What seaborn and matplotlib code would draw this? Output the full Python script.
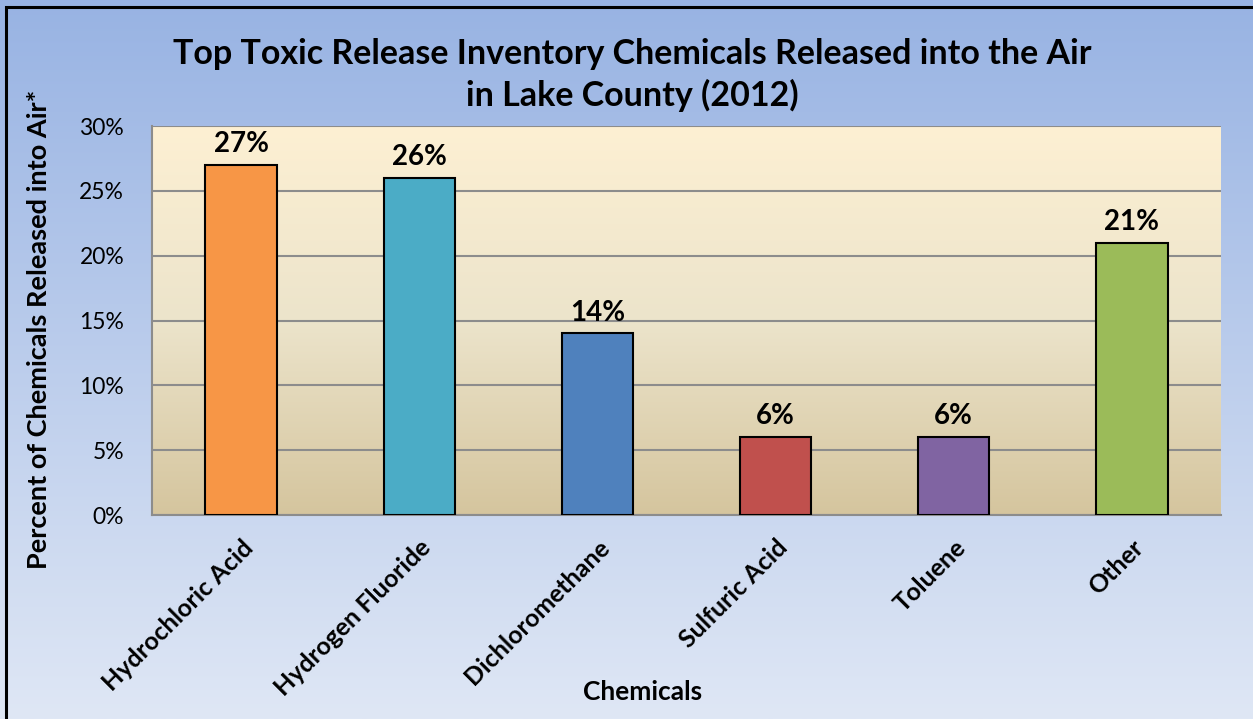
import numpy as np
import pandas as pd
import matplotlib
matplotlib.use("Agg")
import matplotlib.pyplot as plt
import seaborn as sns
from matplotlib.colors import LinearSegmentedColormap
from matplotlib.ticker import FuncFormatter, MultipleLocator

chemicals = ["Hydrochloric Acid", "Hydrogen Fluoride", "Dichloromethane",
             "Sulfuric Acid", "Toluene", "Other"]
percent = [27, 26, 14, 6, 6, 21]
bar_colors = ["#F79646", "#4BACC6", "#4F81BD", "#C0504D", "#8064A2", "#9BBB59"]

df = pd.DataFrame({"Chemical": chemicals, "Percent": percent})

sns.set_style("white")
plt.rcParams["font.family"] = ["Lato", "DejaVu Sans"]
plt.rcParams["text.color"] = "black"
plt.rcParams["axes.labelcolor"] = "black"

fig = plt.figure(figsize=(12.53, 7.19), dpi=100)

# figure background gradient (blue, darker at top)
bg = fig.add_axes([0, 0, 1, 1], zorder=-10)
bg_cmap = LinearSegmentedColormap.from_list("bg", ["#DFE7F5", "#98B3E3"])
bg.imshow(np.linspace(0, 1, 256).reshape(-1, 1), aspect="auto", cmap=bg_cmap,
          origin="lower", extent=[0, 1, 0, 1])
bg.set_axis_off()
# chart frame
fig.patches.append(plt.Rectangle((6 / 1253, -0.05), 1.1, 1 - 7 / 719 + 0.05,
                                 transform=fig.transFigure, fill=False,
                                 edgecolor="black", linewidth=2.2, clip_on=False))

ax = fig.add_axes([152 / 1253, 1 - 515 / 719, (1221 - 152) / 1253, (515 - 126) / 719])
ax.patch.set_alpha(0)

# plot area gradient (cream top, tan bottom)
pa_cmap = LinearSegmentedColormap.from_list("pa", ["#D5C59E", "#ECE4CB", "#FDF0D3"])
ax.imshow(np.linspace(0, 1, 256).reshape(-1, 1), aspect="auto", cmap=pa_cmap,
          origin="lower", extent=[-0.5, 5.5, 0, 30], zorder=0)

sns.barplot(data=df, x="Chemical", y="Percent", hue="Chemical", palette=bar_colors,
            saturation=1, width=0.4, edgecolor="black", linewidth=1.5,
            legend=False, ax=ax, zorder=3)

for i, v in enumerate(percent):
    ax.text(i, v + 0.6, f"{v}%", ha="center", va="bottom", fontsize=20,
            fontweight="bold", color="black")

ax.set_xlim(-0.5, 5.5)
ax.set_ylim(0, 30)
ax.yaxis.set_major_locator(MultipleLocator(5))
ax.yaxis.set_major_formatter(FuncFormatter(lambda v, p: f"{v:.0f}%"))
ax.grid(axis="y", color="#8C8C8C", linewidth=1.5, zorder=1)
ax.set_axisbelow(True)
for s in ["top", "right"]:
    ax.spines[s].set_visible(False)
for s in ["left", "bottom"]:
    ax.spines[s].set_color("#8C8C8C")
    ax.spines[s].set_linewidth(1.5)

ax.tick_params(axis="y", which="major", direction="out", length=8, width=1.5,
               color="#8C8C8C", labelcolor="black", labelsize=16.5, pad=12)
ax.set_xticks(range(len(chemicals)))
ax.set_xticklabels(chemicals, rotation=45, ha="right", rotation_mode="anchor",
                   fontsize=18, fontweight="bold")
ax.tick_params(axis="x", which="major", length=0, pad=15, labelcolor="black")
# category boundary ticks
ax.set_xticks(np.arange(-0.5, 6.0, 1.0), minor=True)
ax.tick_params(axis="x", which="minor", direction="out", length=8, width=1.5,
               color="#8C8C8C")

ax.set_xlabel("Chemicals", fontsize=19, fontweight="bold")
ax.xaxis.set_label_coords(0.459, (515 - 680) / 389)
ax.set_ylabel("Percent of Chemicals Released into Air*", fontsize=19.5,
              fontweight="bold")
ax.yaxis.set_label_coords((51 - 152) / 1069, 0.476)

fig.text(632 / 1253, 1 - 75 / 719,
         "Top Toxic Release Inventory Chemicals Released into the Air\nin Lake County (2012)",
         ha="center", va="center", fontsize=24.5, fontweight="bold",
         linespacing=1.3)

fig.savefig("out.png", dpi=100)
